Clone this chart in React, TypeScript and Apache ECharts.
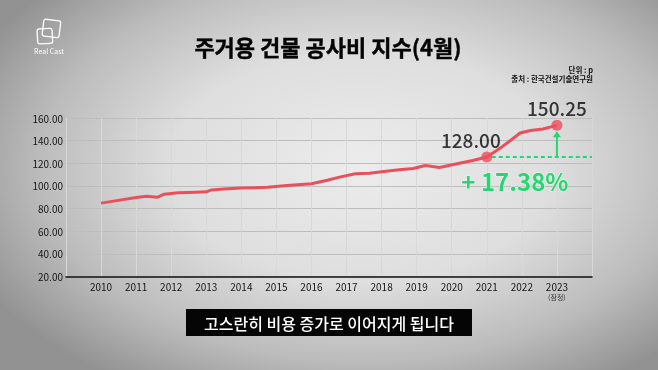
import React, { useEffect, useRef } from "react";
import * as echarts from "echarts";

const years = [2010.0, 2010.4, 2011.0, 2011.3, 2011.6, 2011.8, 2012.2, 2012.7, 2013.0, 2013.15, 2013.5, 2014.0, 2014.75, 2015.3, 2016.0, 2016.45, 2016.8, 2017.25, 2017.65, 2018.0, 2018.5, 2018.9, 2019.25, 2019.65, 2020.15, 2020.6, 2021.0, 2021.45, 2021.95, 2022.25, 2022.6, 2023.0];
const indexValues = [84.8, 86.8, 89.7, 90.8, 89.9, 92.7, 93.9, 94.5, 94.8, 96.5, 97.2, 98.1, 98.8, 100.4, 101.9, 105.0, 107.8, 110.7, 111.2, 112.5, 114.2, 115.4, 118.1, 116.3, 119.6, 122.5, 125.5, 134.9, 146.7, 149.0, 150.3, 153.5];
const yearTicks = [2010, 2011, 2012, 2013, 2014, 2015, 2016, 2017, 2018, 2019, 2020, 2021, 2022, 2023];
const provisionalYear = 2023;
const annotationYears = [2021, 2023];
const annotationLabels = [128.0, 150.25];

const titleText = "주거용 건물 공사비 지수(4월)";
const unitText = "단위 : p";
const sourceText = "출처 : 한국건설기술연구원";
const captionText = "고스란히 비용 증가로 이어지게 됩니다";

const FONT = "'Noto Sans CJK KR', 'Noto Sans', sans-serif";
const GREEN = "#27d672";

export default function App() {
  const ref = useRef<HTMLDivElement>(null);
  useEffect(() => {
    document.body.style.margin = "0";
    const chart = echarts.init(ref.current!, null, { renderer: "svg" });
    const lineData = years.map((y, i) => [y, indexValues[i]]);
    const dotData = annotationYears.map((yr) => {
      const i = years.indexOf(yr);
      return [yr, indexValues[i]];
    });
    chart.setOption({
      animation: false,
      grid: { left: 66, right: 66, top: 118, bottom: 93.5 },
      xAxis: {
        type: "value",
        min: 2009,
        max: 2024,
        interval: 1,
        axisLine: { show: true, lineStyle: { color: "#111", width: 1.5 } },
        axisTick: { show: false },
        splitLine: { show: true, lineStyle: { color: "#d8d8d8", width: 1 } },
        axisLabel: {
          margin: 5,
          fontFamily: FONT,
          fontSize: 10,
          color: "#151515",
          formatter: (v: number) => {
            if (!yearTicks.includes(v)) return "";
            if (v === provisionalYear) return `${v}\n{s|(잠정)}`;
            return `${v}`;
          },
          rich: { s: { fontSize: 7, color: "#333", fontFamily: FONT, lineHeight: 12 } },
        },
      },
      yAxis: {
        type: "value",
        min: 20,
        max: 160,
        interval: 20,
        axisLine: { show: false },
        axisTick: { show: false },
        splitLine: { show: true, lineStyle: { color: "#bdbdbd", width: 1 } },
        axisLabel: {
          margin: 3,
          fontFamily: FONT,
          fontSize: 10,
          color: "#151515",
          formatter: (v: number) => v.toFixed(2),
        },
      },
      series: [
        {
          type: "line",
          data: lineData,
          showSymbol: false,
          lineStyle: { color: "#e9505b", width: 3 },
          z: 3,
        },
        {
          type: "scatter",
          data: dotData,
          symbolSize: 11,
          itemStyle: { color: "#ef4f5a" },
          z: 5,
          label: {
            show: true,
            position: "top",
            distance: 3,
            fontFamily: FONT,
            fontSize: 19,
            fontWeight: 500,
            color: "#0a0a0a",
            formatter: (p: any) => annotationLabels[p.dataIndex].toFixed(2),
          },
          labelLayout: (p: any) => (p.dataIndex === 0 ? { dx: -16 } : {}),
        },
      ],
    });

    const p0 = chart.convertToPixel({ gridIndex: 0 }, dotData[0]) as number[];
    const p1 = chart.convertToPixel({ gridIndex: 0 }, dotData[1]) as number[];
    const right = chart.convertToPixel({ gridIndex: 0 }, [2024, 20]) as number[];
    const pct = ((annotationLabels[1] / annotationLabels[0] - 1) * 100).toFixed(2);

    chart.setOption({
      graphic: [
        // logo
        { type: "rect", x: 44, y: 19, shape: { x: 0, y: 0, width: 17, height: 17, r: 2 }, rotation: -0.12, style: { fill: "none", stroke: "#fff", lineWidth: 1.3 } },
        { type: "rect", x: 37, y: 29, shape: { x: 0, y: 0, width: 15, height: 15, r: 2 }, rotation: 0.05, style: { fill: "none", stroke: "#fff", lineWidth: 1.3 } },
        { type: "text", x: 49, y: 51, style: { text: "Real Cast", fill: "#fff", font: `7px ${FONT}`, align: "center", verticalAlign: "middle" } },
        // title
        { type: "text", x: 328, y: 46, style: { text: titleText, fill: "#050505", stroke: "#050505", lineWidth: 0.4, font: `bold 22px ${FONT}`, align: "center", verticalAlign: "middle" } },
        { type: "text", x: 593, y: 69, style: { text: unitText, fill: "#111", font: `bold 7.5px ${FONT}`, align: "right", verticalAlign: "middle" } },
        { type: "text", x: 593, y: 78.5, style: { text: sourceText, fill: "#111", font: `bold 7.5px ${FONT}`, align: "right", verticalAlign: "middle" } },
        // green dashed line
        { type: "line", z: 4, shape: { x1: p0[0] + 5, y1: p0[1], x2: right[0], y2: p0[1] }, style: { stroke: GREEN, lineWidth: 2, lineDash: [4, 3] } },
        // arrow
        { type: "line", z: 4, shape: { x1: p1[0], y1: p0[1], x2: p1[0], y2: p1[1] + 10 }, style: { stroke: GREEN, lineWidth: 2 } },
        { type: "polygon", z: 4, shape: { points: [[p1[0] - 4, p1[1] + 12], [p1[0] + 4, p1[1] + 12], [p1[0], p1[1] + 6]] }, style: { fill: GREEN } },
        { type: "text", z: 6, x: (p0[0] + p1[0]) / 2 - 7, y: p0[1] + 23, style: { text: `+ ${pct}%`, fill: GREEN, stroke: "#e9f7ee", lineWidth: 1, font: `bold 24px ${FONT}`, align: "center", verticalAlign: "middle" } },
        // caption
        { type: "rect", z: 10, shape: { x: 186, y: 309, width: 286, height: 27 }, style: { fill: "#050505" } },
        { type: "text", z: 11, x: 329, y: 323, style: { text: captionText, fill: "#fff", font: `500 16px ${FONT}`, align: "center", verticalAlign: "middle" } },
      ],
    });
    return () => chart.dispose();
  }, []);
  return (
    <div
      ref={ref}
      style={{
        position: "fixed",
        left: 0,
        top: 0,
        width: 658,
        height: 370,
        background:
          "radial-gradient(ellipse 65% 70% at 55% 45%, #ececec 0%, #dedede 45%, #bcbcbc 75%, #929292 100%)",
      }}
    />
  );
}
